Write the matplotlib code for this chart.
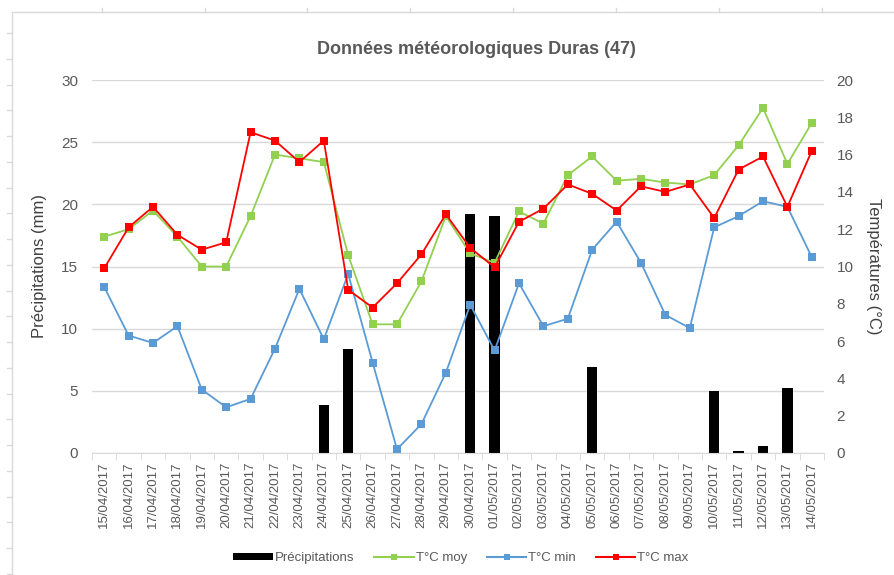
import matplotlib
matplotlib.use('Agg')
import matplotlib.pyplot as plt
from matplotlib.lines import Line2D
from matplotlib.patches import Patch
import numpy as np

plt.rcParams['font.family'] = ['Liberation Sans', 'DejaVu Sans']

dates = ['15/04/2017', '16/04/2017', '17/04/2017', '18/04/2017', '19/04/2017',
         '20/04/2017', '21/04/2017', '22/04/2017', '23/04/2017', '24/04/2017',
         '25/04/2017', '26/04/2017', '27/04/2017', '28/04/2017', '29/04/2017',
         '30/04/2017', '01/05/2017', '02/05/2017', '03/05/2017', '04/05/2017',
         '05/05/2017', '06/05/2017', '07/05/2017', '08/05/2017', '09/05/2017',
         '10/05/2017', '11/05/2017', '12/05/2017', '13/05/2017', '14/05/2017']

precip = [0, 0, 0, 0, 0, 0, 0, 0, 0, 3.9,
          8.4, 0, 0, 0, 0, 19.2, 19.1, 0, 0, 0,
          6.9, 0, 0, 0, 0, 5.0, 0.2, 0.6, 5.2, 0]

t_moy = [11.6, 12.0, 13.0, 11.6, 10.0, 10.0, 12.7, 16.0, 15.8, 15.6,
         10.6, 6.9, 6.9, 9.2, 12.7, 10.7, 10.2, 12.95, 12.3, 14.9,
         15.9, 14.6, 14.7, 14.5, 14.4, 14.9, 16.5, 18.5, 15.5, 17.7]
t_min = [8.9, 6.3, 5.9, 6.8, 3.4, 2.45, 2.9, 5.6, 8.8, 6.1,
         9.6, 4.85, 0.2, 1.55, 4.3, 7.95, 5.5, 9.1, 6.8, 7.2,
         10.9, 12.4, 10.2, 7.4, 6.7, 12.1, 12.7, 13.5, 13.2, 10.5]
t_max = [9.9, 12.1, 13.2, 11.7, 10.9, 11.3, 17.2, 16.75, 15.6, 16.75,
         8.75, 7.8, 9.1, 10.65, 12.8, 11.0, 9.95, 12.4, 13.1, 14.4,
         13.9, 13.0, 14.3, 14.0, 14.4, 12.6, 15.2, 15.9, 13.2, 16.2]

txt = '#595959'
grid = '#d9d9d9'
c_moy = '#92d050'
c_min = '#5b9bd5'
c_max = '#ff0000'

W, H = 894, 575
fig = plt.figure(figsize=(W / 100, H / 100), dpi=100)

# spreadsheet background: chart frame (left/top) and cell marks
def px_line(x0, y0, x1, y1):
    fig.add_artist(Line2D([x0 / W, x1 / W], [1 - y0 / H, 1 - y1 / H],
                          color=grid, linewidth=1))

px_line(11.5, 12, W, 12)
px_line(11.5, 12, 11.5, H)
for xm in [102, 205, 307, 410, 513, 616, 719, 822]:
    px_line(xm, 8, xm, 12)
for ym in np.arange(33, H, 25.75):
    px_line(7, ym, 11.5, ym)

ax = fig.add_axes([92 / W, 1 - 453 / H, 732 / W, 373 / H])
x = np.arange(len(dates))

ax.bar(x, precip, width=0.42, color='black', zorder=2)
ax.set_xlim(-0.5, len(dates) - 0.5)
ax.set_ylim(0, 30)
ax.set_yticks(range(0, 31, 5))
ax.yaxis.grid(True, color=grid, linewidth=1)
ax.set_axisbelow(True)
for s in ['top', 'left', 'right']:
    ax.spines[s].set_visible(False)
ax.spines['bottom'].set_color(grid)
ax.tick_params(axis='y', length=0, labelsize=11, colors=txt, pad=10)
ax.set_xticks(x)
ax.set_xticklabels(dates, rotation=90, fontsize=9.5, color=txt)
ax.tick_params(axis='x', which='major', length=0, pad=6)
ax.set_xticks(np.arange(-0.5, len(dates), 1), minor=True)
ax.tick_params(axis='x', which='minor', length=5, color=grid, direction='out')
ax.set_ylabel('Précipitations (mm)', fontsize=12, color='#404040', labelpad=10)

ax2 = ax.twinx()
mk = dict(marker='s', markersize=6, linewidth=1.3, markeredgewidth=0)
ax2.plot(x, t_moy, color=c_moy, **mk)
ax2.plot(x, t_min, color=c_min, **mk)
ax2.plot(x, t_max, color=c_max, **mk)
ax2.set_ylim(0, 20)
ax2.set_yticks(range(0, 21, 2))
for s in ['top', 'left', 'right', 'bottom']:
    ax2.spines[s].set_visible(False)
ax2.tick_params(axis='y', length=0, labelsize=11, colors=txt, pad=9)
ax2.set_ylabel('Températures (°C)', fontsize=12, color='#404040',
               rotation=270, labelpad=20)

fig.text(476 / W, 1 - 50 / H, 'Données météorologiques Duras (47)',
         ha='center', va='center', fontsize=13, fontweight='bold', color=txt)

handles = [Patch(facecolor='black', label='Précipitations'),
           Line2D([0], [0], color=c_moy, marker='s', markersize=5,
                  markeredgewidth=0, label='T°C moy'),
           Line2D([0], [0], color=c_min, marker='s', markersize=5,
                  markeredgewidth=0, label='T°C min'),
           Line2D([0], [0], color=c_max, marker='s', markersize=5,
                  markeredgewidth=0, label='T°C max')]
leg = fig.legend(handles=handles, loc='center', ncol=4,
                 bbox_to_anchor=(461 / W, 1 - 558 / H), frameon=False,
                 fontsize=9.5, handlelength=3.0, columnspacing=1.5,
                 handletextpad=0.15, handleheight=0.5)
for t in leg.get_texts():
    t.set_color(txt)

fig.savefig('out.png', dpi=100)
